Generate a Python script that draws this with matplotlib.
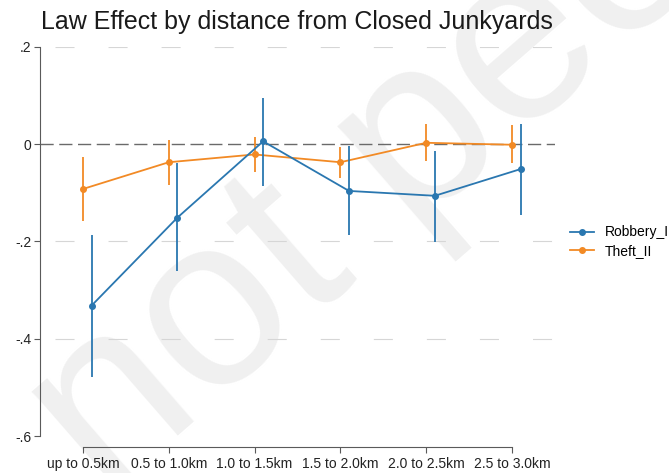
import matplotlib
matplotlib.use("Agg")
import matplotlib.pyplot as plt
import numpy as np

plt.rcParams['font.family'] = ['Liberation Sans', 'DejaVu Sans']
plt.rcParams['lines.scale_dashes'] = False

# Distance bands
categories = ["up to 0.5km", "0.5 to 1.0km", "1.0 to 1.5km",
              "1.5 to 2.0km", "2.0 to 2.5km", "2.5 to 3.0km"]

# Robbery_I: point estimates and 95% CI bounds
rob_coef = [-0.332, -0.151, 0.006, -0.096, -0.106, -0.051]
rob_lo = [-0.479, -0.261, -0.086, -0.187, -0.201, -0.146]
rob_hi = [-0.186, -0.039, 0.096, -0.003, -0.013, 0.041]

# Theft_II: point estimates and 95% CI bounds
theft_coef = [-0.092, -0.037, -0.021, -0.037, 0.003, -0.001]
theft_lo = [-0.157, -0.084, -0.058, -0.070, -0.034, -0.039]
theft_hi = [-0.027, 0.008, 0.014, -0.005, 0.042, 0.039]

ytick_vals = [0.2, 0.0, -0.2, -0.4, -0.6]
ytick_labels = [".2", "0", "-.2", "-.4", "-.6"]
grid_vals = [0.2, -0.2, -0.4]

BLUE = "#2a77b0"
ORANGE = "#f28a25"
AXIS = "#5a5a5a"

fig = plt.figure(figsize=(6.69, 4.73), dpi=100)
W, H = 669, 473

# preprint watermark behind the plot
fig.text(105 / W, 1 - 500 / H, "not peer reviewed", rotation=41,
         rotation_mode='anchor', ha='left', va='baseline',
         fontsize=175, color="#f0f0f0", zorder=-5)

ax = fig.add_axes([40 / W, 1 - 436 / H, 515 / W, 389 / H])
ax.patch.set_alpha(0)

x = np.arange(1, len(categories) + 1)
xb = x + 0.1

for g in grid_vals:
    ax.axhline(g, color="#d6d6d6", lw=0.8, linestyle=(27.4, (13.7, 24.5)), zorder=1)
ax.axhline(0, color="#6a6a6a", lw=1.0, linestyle=(0, (9.5, 4.0)), zorder=1)

t_c = np.array(theft_coef)
r_c = np.array(rob_coef)
ax.vlines(x, theft_lo, theft_hi, color=ORANGE, lw=1.3, zorder=3)
ax.plot(x, t_c, '-o', color=ORANGE, lw=1.3, ms=4, zorder=3, label="Theft_II")
ax.vlines(xb, rob_lo, rob_hi, color=BLUE, lw=1.3, zorder=4)
ax.plot(xb, r_c, '-o', color=BLUE, lw=1.3, ms=4, zorder=4, label="Robbery_I")

ax.set_xlim(0.5, 6.5)
ax.set_ylim(-0.6, 0.2)

for s in ["top", "right"]:
    ax.spines[s].set_visible(False)
for s in ["left", "bottom"]:
    ax.spines[s].set_color(AXIS)
    ax.spines[s].set_linewidth(0.8)
ax.spines["left"].set_bounds(-0.6, 0.2)
ax.spines["bottom"].set_bounds(1, 6)
ax.spines["bottom"].set_position(("outward", 8))

ax.set_yticks(ytick_vals)
ax.set_yticklabels(ytick_labels)
ax.set_xticks(x)
ax.set_xticklabels(categories)
ax.tick_params(axis="both", direction="out", length=4, width=0.8,
               color=AXIS, labelsize=10, labelcolor="#222222")
ax.tick_params(axis="y", pad=2)
ax.tick_params(axis="x", pad=3)

handles, labels = ax.get_legend_handles_labels()
order = [1, 0]
fig.legend([handles[i] for i in order], [labels[i] for i in order],
           loc="center left", bbox_to_anchor=(570 / W, 1 - 241.5 / H),
           frameon=False, fontsize=10, handlelength=1.7, handletextpad=0.8,
           borderpad=0, borderaxespad=0, labelspacing=0.3)

fig.text(297 / W, 1 - 22 / H, "Law Effect by distance from Closed Junkyards",
         ha="center", va="center", fontsize=18, color="#1a1a1a")

fig.savefig("out.png", dpi=100)
